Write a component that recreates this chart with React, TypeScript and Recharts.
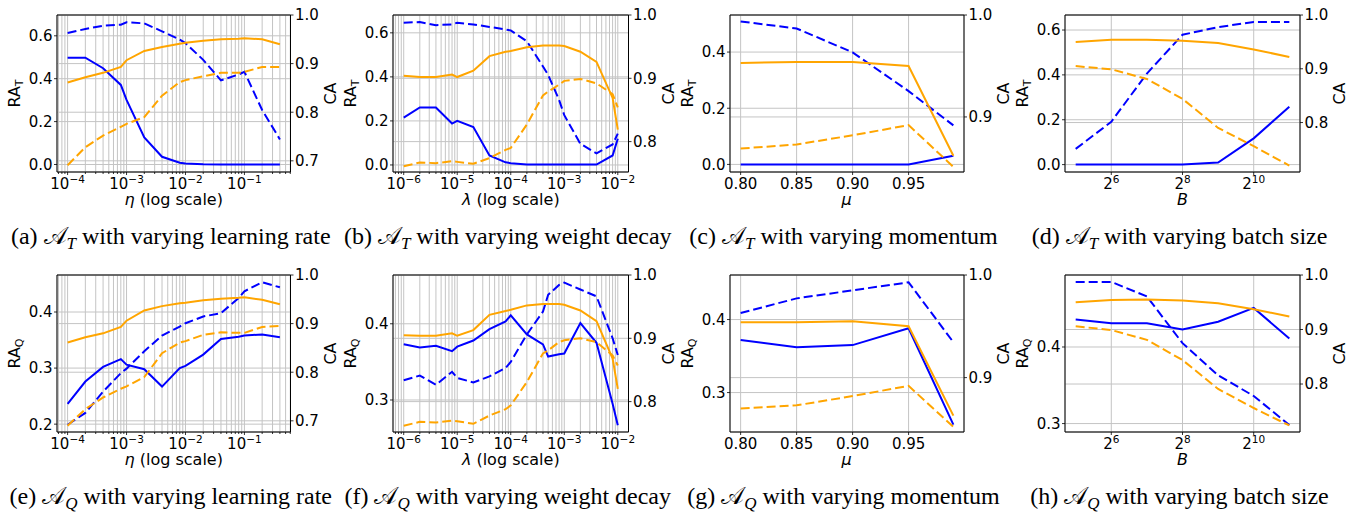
import React from 'react';
import { ComposedChart, Line, XAxis, YAxis, CartesianGrid, ReferenceLine } from 'recharts';

const BLUE = '#0000ff';
const ORANGE = '#ffa500';
const GRID = '#c4c4c4';
const FONT = 'DejaVu Sans, sans-serif';
const SERIF = 'Liberation Serif, Times New Roman, serif';
const TICK_FS = 15;

// ---- x values -------------------------------------------------------------
const lrX = [1e-4, 2e-4, 4e-4, 8e-4, 1e-3, 2e-3, 4e-3, 8e-3, 1e-2, 2e-2, 4e-2, 8e-2, 1e-1, 2e-1, 4e-1];
const wdX = [1e-6, 2e-6, 4e-6, 8e-6, 1e-5, 2e-5, 4e-5, 8e-5, 1e-4, 2e-4, 4e-4, 5e-4, 8e-4, 1e-3, 2e-3, 4e-3, 8e-3, 1e-2];
const momX = [0.8, 0.85, 0.9, 0.95, 0.99];
const bsX = [32, 64, 128, 256, 512, 1024, 2048];

// ---- (a) A_T, learning rate ---------------------------------------------
const aRaSolid = [0.498, 0.498, 0.449, 0.371, 0.301, 0.126, 0.036, 0.008, 0.005, 0.001, 0, 0, 0, 0, 0];
const aRaDashed = [0.613, 0.632, 0.647, 0.652, 0.663, 0.658, 0.621, 0.582, 0.566, 0.488, 0.392, 0.42, 0.432, 0.254, 0.117];
const aCaSolid = [0.861, 0.872, 0.881, 0.893, 0.907, 0.926, 0.934, 0.941, 0.943, 0.947, 0.95, 0.951, 0.952, 0.95, 0.94];
const aCaDashed = [0.691, 0.728, 0.752, 0.77, 0.776, 0.79, 0.834, 0.862, 0.866, 0.874, 0.881, 0.881, 0.883, 0.893, 0.893];

// ---- (b) A_T, weight decay -----------------------------------------------
const bRaSolid = [0.215, 0.261, 0.261, 0.188, 0.2, 0.172, 0.043, 0.012, 0.008, 0.002, 0.002, 0.002, 0.002, 0.002, 0.002, 0.002, 0.043, 0.119];
const bRaDashed = [0.646, 0.649, 0.635, 0.638, 0.646, 0.638, 0.627, 0.615, 0.611, 0.562, 0.447, 0.409, 0.295, 0.226, 0.096, 0.053, 0.093, 0.142];
const bCaSolid = [0.904, 0.902, 0.902, 0.906, 0.902, 0.912, 0.935, 0.942, 0.943, 0.949, 0.952, 0.952, 0.952, 0.951, 0.942, 0.926, 0.869, 0.819];
const bCaDashed = [0.761, 0.767, 0.766, 0.769, 0.768, 0.765, 0.774, 0.787, 0.79, 0.827, 0.873, 0.879, 0.89, 0.896, 0.899, 0.892, 0.875, 0.854];

// ---- (c) A_T, momentum ---------------------------------------------------
const cRaSolid = [0, 0, 0, 0, 0.031];
const cRaDashed = [0.509, 0.484, 0.399, 0.261, 0.139];
const cCaSolid = [0.953, 0.954, 0.954, 0.95, 0.862];
const cCaDashed = [0.869, 0.873, 0.882, 0.892, 0.851];

// ---- (d) A_T, batch size -------------------------------------------------
const dRaSolid = [0, 0, 0, 0, 0.009, 0.117, 0.258];
const dRaDashed = [0.07, 0.191, 0.406, 0.579, 0.613, 0.636, 0.636];
const dCaSolid = [0.95, 0.954, 0.954, 0.952, 0.948, 0.936, 0.922];
const dCaDashed = [0.905, 0.899, 0.881, 0.844, 0.79, 0.756, 0.72];

// ---- (e) A_Q, learning rate ----------------------------------------------
const eRaSolid = [0.236, 0.276, 0.302, 0.316, 0.306, 0.298, 0.267, 0.3, 0.304, 0.324, 0.352, 0.356, 0.358, 0.36, 0.355];
const eRaDashed = [0.199, 0.22, 0.258, 0.291, 0.299, 0.33, 0.358, 0.374, 0.38, 0.392, 0.398, 0.425, 0.437, 0.453, 0.444];
const eCaSolid = [0.861, 0.872, 0.88, 0.893, 0.906, 0.927, 0.936, 0.942, 0.943, 0.948, 0.951, 0.953, 0.954, 0.949, 0.94];
const eCaDashed = [0.69, 0.724, 0.748, 0.766, 0.771, 0.79, 0.839, 0.861, 0.864, 0.877, 0.882, 0.881, 0.881, 0.893, 0.895];

// ---- (f) A_Q, weight decay -----------------------------------------------
const fRaSolid = [0.373, 0.369, 0.371, 0.364, 0.37, 0.378, 0.393, 0.403, 0.411, 0.386, 0.373, 0.357, 0.36, 0.361, 0.401, 0.375, 0.295, 0.267];
const fRaDashed = [0.326, 0.332, 0.32, 0.337, 0.329, 0.323, 0.331, 0.342, 0.35, 0.386, 0.416, 0.438, 0.451, 0.454, 0.445, 0.436, 0.381, 0.359];
const fCaSolid = [0.905, 0.904, 0.904, 0.908, 0.904, 0.913, 0.937, 0.943, 0.945, 0.952, 0.954, 0.954, 0.954, 0.953, 0.944, 0.927, 0.868, 0.82];
const fCaDashed = [0.762, 0.768, 0.767, 0.77, 0.769, 0.765, 0.778, 0.788, 0.794, 0.831, 0.876, 0.881, 0.894, 0.897, 0.9, 0.894, 0.873, 0.857];

// ---- (g) A_Q, momentum ---------------------------------------------------
const gRaSolid = [0.372, 0.362, 0.365, 0.388, 0.256];
const gRaDashed = [0.409, 0.429, 0.44, 0.451, 0.369];
const gCaSolid = [0.954, 0.954, 0.955, 0.95, 0.863];
const gCaDashed = [0.87, 0.873, 0.882, 0.892, 0.852];

// ---- (h) A_Q, batch size -------------------------------------------------
const hRaSolid = [0.436, 0.431, 0.431, 0.423, 0.433, 0.451, 0.411];
const hRaDashed = [0.485, 0.485, 0.466, 0.405, 0.363, 0.336, 0.298];
const hCaSolid = [0.95, 0.954, 0.955, 0.953, 0.948, 0.937, 0.924];
const hCaDashed = [0.906, 0.899, 0.881, 0.844, 0.791, 0.756, 0.724];

// ---- ticks ----------------------------------------------------------------
const momTicks = [0.8, 0.85, 0.9, 0.95];
const bsTicks = [64, 256, 1024];

// major + minor ticks (1..9 x 10^k) inside the domain
function logTicks(lo: number, hi: number) {
  const out: number[] = [];
  for (let e = Math.floor(Math.log10(lo)); e <= Math.ceil(Math.log10(hi)); e++) {
    for (let m = 1; m <= 9; m++) {
      const v = m * Math.pow(10, e);
      if (v >= lo && v <= hi) out.push(v);
    }
  }
  return out;
}

const lrDomain: [number, number] = [Math.pow(10, -4.18), Math.pow(10, -0.218)];
const wdDomain: [number, number] = [Math.pow(10, -6.2), Math.pow(10, -1.8)];
const momDomain: [number, number] = [0.7905, 0.9995];
const bsDomain: [number, number] = [Math.pow(2, 4.7), Math.pow(2, 11.3)];

type Kind = 'log10' | 'lin' | 'log2';

interface Panel {
  tag: string;
  sub: string;
  what: string;
  L: number;
  R: number;
  T: number;
  B: number;
  x: number[];
  rs: number[];
  rd: number[];
  cs: number[];
  cd: number[];
  kind: Kind;
  xDomain: [number, number];
  xTicks: number[];
  xSym: string;
  xLog: boolean;
  leftDomain: [number, number];
  leftTicks: number[];
  rightDomain: [number, number];
  rightTicks: number[];
}

const COLS = [
  { L: 57, R: 290.5 },
  { L: 393, R: 628.5 },
  { L: 729.5, R: 963.5 },
  { L: 1065, R: 1300 },
];
const ROWS = [
  { T: 15, B: 172 },
  { T: 275, B: 432 },
];

const panels: Panel[] = [
  { tag: 'a', sub: 'T', what: 'learning rate', ...COLS[0], ...ROWS[0], x: lrX, rs: aRaSolid, rd: aRaDashed, cs: aCaSolid, cd: aCaDashed, kind: 'log10', xDomain: lrDomain, xTicks: logTicks(lrDomain[0], lrDomain[1]), xSym: 'η', xLog: true, leftDomain: [-0.035, 0.697], leftTicks: [0, 0.2, 0.4, 0.6], rightDomain: [0.677, 1.0], rightTicks: [0.7, 0.8, 0.9, 1.0] },
  { tag: 'b', sub: 'T', what: 'weight decay', ...COLS[1], ...ROWS[0], x: wdX, rs: bRaSolid, rd: bRaDashed, cs: bCaSolid, cd: bCaDashed, kind: 'log10', xDomain: wdDomain, xTicks: logTicks(wdDomain[0], wdDomain[1]), xSym: 'λ', xLog: true, leftDomain: [-0.032, 0.681], leftTicks: [0, 0.2, 0.4, 0.6], rightDomain: [0.752, 1.0], rightTicks: [0.8, 0.9, 1.0] },
  { tag: 'c', sub: 'T', what: 'momentum', ...COLS[2], ...ROWS[0], x: momX, rs: cRaSolid, rd: cRaDashed, cs: cCaSolid, cd: cCaDashed, kind: 'lin', xDomain: momDomain, xTicks: momTicks, xSym: 'μ', xLog: false, leftDomain: [-0.027, 0.532], leftTicks: [0, 0.2, 0.4], rightDomain: [0.846, 1.0], rightTicks: [0.9, 1.0] },
  { tag: 'd', sub: 'T', what: 'batch size', ...COLS[3], ...ROWS[0], x: bsX, rs: dRaSolid, rd: dRaDashed, cs: dCaSolid, cd: dCaDashed, kind: 'log2', xDomain: bsDomain, xTicks: bsTicks, xSym: 'B', xLog: false, leftDomain: [-0.033, 0.667], leftTicks: [0, 0.2, 0.4, 0.6], rightDomain: [0.708, 1.0], rightTicks: [0.8, 0.9, 1.0] },
  { tag: 'e', sub: 'Q', what: 'learning rate', ...COLS[0], ...ROWS[1], x: lrX, rs: eRaSolid, rd: eRaDashed, cs: eCaSolid, cd: eCaDashed, kind: 'log10', xDomain: lrDomain, xTicks: logTicks(lrDomain[0], lrDomain[1]), xSym: 'η', xLog: true, leftDomain: [0.186, 0.466], leftTicks: [0.2, 0.3, 0.4], rightDomain: [0.677, 1.0], rightTicks: [0.7, 0.8, 0.9, 1.0] },
  { tag: 'f', sub: 'Q', what: 'weight decay', ...COLS[1], ...ROWS[1], x: wdX, rs: fRaSolid, rd: fRaDashed, cs: fCaSolid, cd: fCaDashed, kind: 'log10', xDomain: wdDomain, xTicks: logTicks(wdDomain[0], wdDomain[1]), xSym: 'λ', xLog: true, leftDomain: [0.258, 0.464], leftTicks: [0.3, 0.4], rightDomain: [0.752, 1.0], rightTicks: [0.8, 0.9, 1.0] },
  { tag: 'g', sub: 'Q', what: 'momentum', ...COLS[2], ...ROWS[1], x: momX, rs: gRaSolid, rd: gRaDashed, cs: gCaSolid, cd: gCaDashed, kind: 'lin', xDomain: momDomain, xTicks: momTicks, xSym: 'μ', xLog: false, leftDomain: [0.246, 0.461], leftTicks: [0.3, 0.4], rightDomain: [0.847, 1.0], rightTicks: [0.9, 1.0] },
  { tag: 'h', sub: 'Q', what: 'batch size', ...COLS[3], ...ROWS[1], x: bsX, rs: hRaSolid, rd: hRaDashed, cs: hCaSolid, cd: hCaDashed, kind: 'log2', xDomain: bsDomain, xTicks: bsTicks, xSym: 'B', xLog: false, leftDomain: [0.289, 0.494], leftTicks: [0.3, 0.4], rightDomain: [0.712, 1.0], rightTicks: [0.8, 0.9, 1.0] },
];

const AX_W = 60;
const TOP = 10;
const XAX_H = 50;
const DASH = '9 4';

const XTick = ({ x, y, payload, kind }: any) => {
  const v = payload.value as number;
  let major = true;
  let label: React.ReactNode = null;
  if (kind === 'log10') {
    const e = Math.log10(v);
    major = Math.abs(e - Math.round(e)) < 1e-6;
    if (major) {
      label = (
        <>
          10
          <tspan dy={-6} fontSize={10.5}>{'−' + Math.abs(Math.round(e))}</tspan>
        </>
      );
    }
  } else if (kind === 'log2') {
    label = (
      <>
        2
        <tspan dy={-6} fontSize={10.5}>{String(Math.round(Math.log2(v)))}</tspan>
      </>
    );
  } else {
    label = v.toFixed(2);
  }
  return (
    <g>
      <line x1={x} x2={x} y1={y} y2={y + (major ? 3 : 2)} stroke="#000" strokeWidth={0.8} />
      {label && (
        <text x={x} y={y + 16.5} textAnchor="middle" fontSize={TICK_FS} fontFamily={FONT} fill="#000">
          {label}
        </text>
      )}
    </g>
  );
};

const YTick = ({ x, y, payload, side }: any) => {
  const s = side === 'left' ? -1 : 1;
  return (
    <g>
      <line x1={x} x2={x + s * 3} y1={y} y2={y} stroke="#000" strokeWidth={0.8} />
      <text
        x={x + s * 4.5}
        y={y}
        dy="0.36em"
        textAnchor={side === 'left' ? 'end' : 'start'}
        fontSize={TICK_FS}
        fontFamily={FONT}
        fill="#000"
      >
        {(payload.value as number).toFixed(1)}
      </text>
    </g>
  );
};

function PanelChart({ p }: { p: Panel }) {
  const data = p.x.map((x, i) => ({ x, rs: p.rs[i], rd: p.rd[i], cs: p.cs[i], cd: p.cd[i] }));
  const w = p.R - p.L + 2 * AX_W;
  const h = p.B - p.T + TOP + XAX_H;
  return (
    <div style={{ position: 'absolute', left: p.L - AX_W, top: p.T - TOP }}>
      <ComposedChart width={w} height={h} data={data} margin={{ top: TOP, right: 0, bottom: 0, left: 0 }}>
        <CartesianGrid yAxisId="left" stroke={GRID} strokeWidth={1} />
        <CartesianGrid yAxisId="right" vertical={false} stroke={GRID} strokeWidth={1} />
        <XAxis
          dataKey="x"
          type="number"
          scale={p.kind === 'lin' ? 'linear' : 'log'}
          domain={p.xDomain}
          allowDataOverflow
          ticks={p.xTicks}
          interval={0}
          tick={(props: any) => <XTick {...props} kind={p.kind} />}
          tickLine={false}
          tickSize={0}
          tickMargin={0}
          height={XAX_H}
          axisLine={{ stroke: '#000', strokeWidth: 1 }}
        />
        <YAxis
          yAxisId="left"
          type="number"
          domain={p.leftDomain}
          allowDataOverflow
          ticks={p.leftTicks}
          interval={0}
          tick={(props: any) => <YTick {...props} side="left" />}
          tickLine={false}
          tickSize={0}
          tickMargin={0}
          width={AX_W}
          axisLine={{ stroke: '#000', strokeWidth: 1 }}
        />
        <YAxis
          yAxisId="right"
          orientation="right"
          type="number"
          domain={p.rightDomain}
          allowDataOverflow
          ticks={p.rightTicks}
          interval={0}
          tick={(props: any) => <YTick {...props} side="right" />}
          tickLine={false}
          tickSize={0}
          tickMargin={0}
          width={AX_W}
          axisLine={{ stroke: '#000', strokeWidth: 1 }}
        />
        <ReferenceLine yAxisId="left" y={p.leftDomain[1]} stroke="#000" strokeWidth={1} />
        <Line yAxisId="left" dataKey="rs" type="linear" stroke={BLUE} strokeWidth={2} dot={false} isAnimationActive={false} />
        <Line yAxisId="left" dataKey="rd" type="linear" stroke={BLUE} strokeWidth={2} strokeDasharray={DASH} dot={false} isAnimationActive={false} />
        <Line yAxisId="right" dataKey="cs" type="linear" stroke={ORANGE} strokeWidth={2} dot={false} isAnimationActive={false} />
        <Line yAxisId="right" dataKey="cd" type="linear" stroke={ORANGE} strokeWidth={2} strokeDasharray={DASH} dot={false} isAnimationActive={false} />
      </ComposedChart>
    </div>
  );
}

function Labels({ p }: { p: Panel }) {
  const cy = (p.T + p.B) / 2;
  const lx = p.L - 37;
  const rx = p.R + 45;
  const cx = (p.L + p.R) / 2;
  const capY = p.T + 229;
  return (
    <g>
      <text x={lx} y={cy} transform={`rotate(-90 ${lx} ${cy})`} textAnchor="middle" fontSize={16} fontFamily={FONT} fill="#000">
        RA<tspan dy={3} fontSize={11}>{p.sub}</tspan>
      </text>
      <text x={rx} y={cy} transform={`rotate(-90 ${rx} ${cy})`} textAnchor="middle" fontSize={16} fontFamily={FONT} fill="#000">
        CA
      </text>
      <text x={cx} y={p.B + 33} textAnchor="middle" fontSize={16} fontFamily={FONT} fill="#000">
        <tspan fontStyle="italic">{p.xSym}</tspan>
        {p.xLog ? ' (log scale)' : ''}
      </text>
      <text x={cx - 3} y={capY} textAnchor="middle" fontSize={24} fontFamily={SERIF} fill="#000">
        ({p.tag}) 𝒜<tspan dy={5} fontSize={17} fontStyle="italic">{p.sub}</tspan>
        <tspan dy={-5}>{' with varying ' + p.what}</tspan>
      </text>
    </g>
  );
}

export default function App() {
  return (
    <div style={{ position: 'absolute', left: 0, top: 0, width: 1357, height: 512, background: '#fff', overflow: 'hidden' }}>
      {panels.map((p) => (
        <PanelChart key={p.tag} p={p} />
      ))}
      <svg width={1357} height={512} style={{ position: 'absolute', left: 0, top: 0, pointerEvents: 'none' }}>
        {panels.map((p) => (
          <Labels key={p.tag} p={p} />
        ))}
      </svg>
    </div>
  );
}
